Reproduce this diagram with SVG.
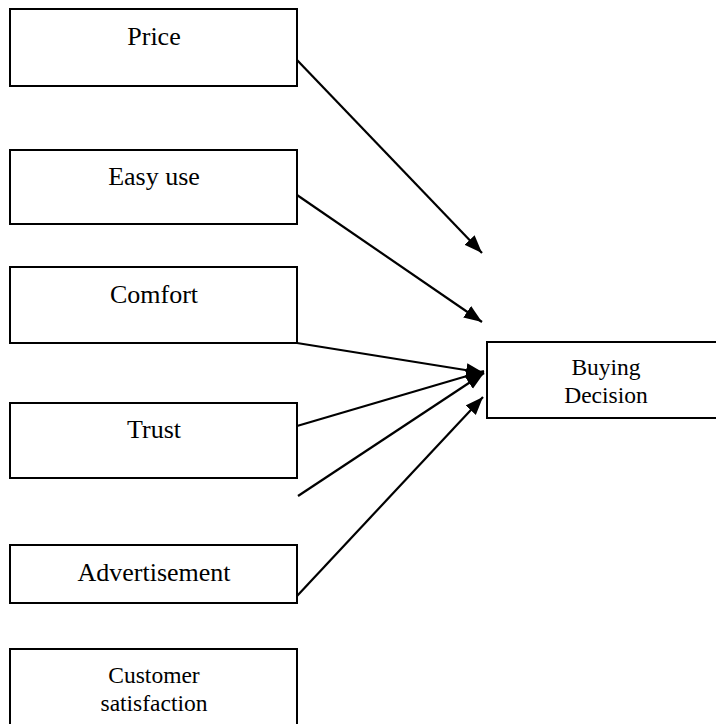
<svg xmlns="http://www.w3.org/2000/svg" width="716" height="724" viewBox="0 0 716 724">
<style>
.box{fill:#fff;stroke:#000;stroke-width:2}
.t{font-family:"Liberation Serif","Times New Roman",serif;font-size:26px;fill:#000;text-anchor:middle}
.s{font-size:23.5px}
.c{fill:none;stroke:#000;stroke-width:2.2}
</style>
<defs>
<marker id="ah" markerUnits="userSpaceOnUse" markerWidth="20" markerHeight="16" refX="18" refY="7" orient="auto">
<path d="M0,0 L18,7 L0,14 Z" fill="#000"/>
</marker>
</defs>
<rect width="716" height="724" fill="#fff"/>
<g id="price"><rect class="box" x="10" y="9" width="287" height="77"/><text class="t" x="154" y="45">Price</text></g>
<g id="easy-use"><rect class="box" x="10" y="150" width="287" height="74"/><text class="t" x="154" y="185">Easy use</text></g>
<g id="comfort"><rect class="box" x="10" y="267" width="287" height="76"/><text class="t" x="154" y="303">Comfort</text></g>
<g id="trust"><rect class="box" x="10" y="403" width="287" height="75"/><text class="t" x="154" y="438">Trust</text></g>
<g id="advertisement"><rect class="box" x="10" y="545" width="287" height="58"/><text class="t" x="154" y="581">Advertisement</text></g>
<g id="customer-satisfaction"><rect class="box" x="10" y="649" width="287" height="90"/><text class="t s" x="154" y="683">Customer</text><text class="t s" x="154" y="711">satisfaction</text></g>
<g id="buying-decision"><rect class="box" x="487" y="342" width="240" height="76"/><text class="t s" x="606" y="375">Buying</text><text class="t s" x="606" y="403">Decision</text></g>
<g id="connectors">
<line class="c" x1="297" y1="60" x2="482" y2="253" marker-end="url(#ah)"/>
<line class="c" x1="297" y1="195" x2="482" y2="322" marker-end="url(#ah)"/>
<line class="c" x1="297" y1="343" x2="484" y2="373" marker-end="url(#ah)"/>
<line class="c" x1="297" y1="426" x2="484" y2="371" marker-end="url(#ah)"/>
<line class="c" x1="298" y1="496" x2="484" y2="373" marker-end="url(#ah)"/>
<line class="c" x1="297" y1="596" x2="483" y2="397" marker-end="url(#ah)"/>
</g>
</svg>
